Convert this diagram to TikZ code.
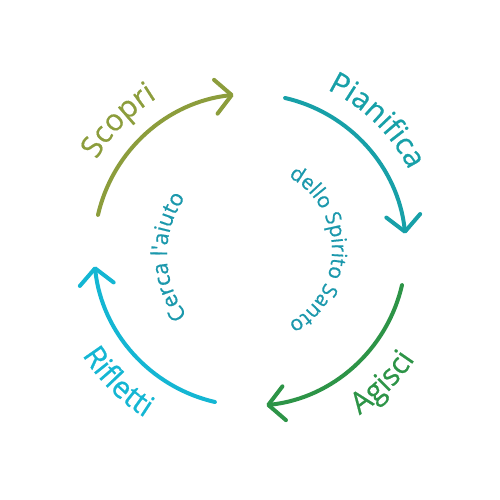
\documentclass[tikz,border=0pt]{standalone}
\usepackage{fontspec}
\setmainfont{Open Sans}
\newfontfamily\lblfont{Open Sans}[FakeBold=0.6]
\usetikzlibrary{arrows.meta,decorations.text}
\definecolor{cOlive}{HTML}{8C9D3C}
\definecolor{cTeal}{HTML}{17A0A8}
\definecolor{cGreen}{HTML}{2D9447}
\definecolor{cCyan}{HTML}{14B6D3}
\definecolor{cInner}{HTML}{1B98AC}
\begin{document}
\begin{tikzpicture}[x=1pt,y=1pt,
  cyc/.style={line width=4pt, line cap=round,
    -{Straight Barb[length=16pt,width=34pt,round]}},
]
\useasboundingbox (-250,-250) rectangle (250,250);
% cycle arcs
\coordinate (c) at (0,0);
\draw[cyc, cOlive] (167:156) arc[start angle=167, end angle=96, radius=156];
\draw[cyc, cTeal]  (77:156)  arc[start angle=77,  end angle=6,  radius=156];
\draw[cyc, cGreen] (-13:156) arc[start angle=-13, end angle=-84, radius=156];
\draw[cyc, cCyan]  (257:156) arc[start angle=257, end angle=186, radius=156];
% outer labels
\path[decorate, decoration={text along path, text align=center,
  text={|\lblfont\fontsize{30}{36}\selectfont\color{cOlive}|Scopri}}]
  (160:178) arc[start angle=160, end angle=111, radius=178];
\path[decorate, decoration={text along path, text align=center,
  text={|\lblfont\fontsize{30}{36}\selectfont\color{cTeal}|Pianifica}}]
  (75:178) arc[start angle=75, end angle=16, radius=178];
\path[decorate, decoration={text along path, text align=center,
  text={|\lblfont\fontsize{30}{36}\selectfont\color{cGreen}|Agisci}}]
  (-70:198) arc[start angle=-70, end angle=-20, radius=198];
\path[decorate, decoration={text along path, text align=center,
  text={|\lblfont\fontsize{30}{36}\selectfont\color{cCyan}|Rifletti}}]
  (198:198) arc[start angle=198, end angle=252, radius=198];
% inner labels
\begin{scope}[shift={(17,-5)}]
\path[decorate, decoration={text along path, text align=center,
  text={|\lblfont\fontsize{22}{26}\selectfont\color{cInner}|Cerca l'aiuto}}]
  (221:100) arc[start angle=221, end angle=141, radius=100];
\end{scope}
\begin{scope}[shift={(-1,0)}]
\path[decorate, decoration={text along path, text align=center,
  text={|\lblfont\fontsize{21}{25}\selectfont\color{cInner}|dello Spirito Santo}}]
  (70:83) arc[start angle=70, end angle=-70, radius=83];
\end{scope}
\end{tikzpicture}
\end{document}
